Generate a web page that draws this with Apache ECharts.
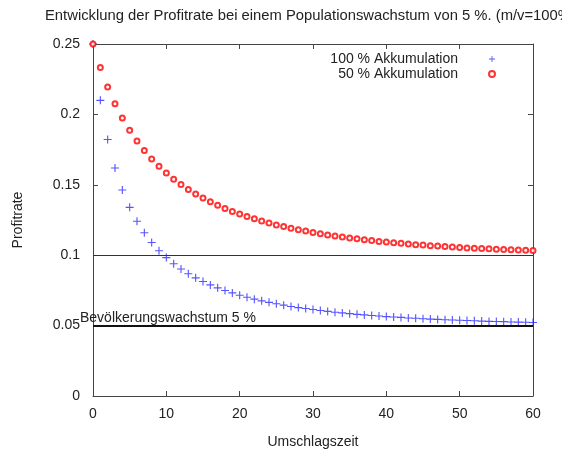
<!DOCTYPE html>
<html>
<head>
<meta charset="utf-8">
<script src="https://cdn.jsdelivr.net/npm/echarts@6/dist/echarts.min.js"></script>
<style>html,body{margin:0;padding:0;background:#fff}#c{width:562px;height:454px}</style>
</head>
<body>
<div id="c"></div>
<script>
const titleText = 'Entwicklung der Profitrate bei einem Populationswachstum von 5 %. (m/v=100%)';
const xName = 'Umschlagszeit';
const yName = 'Profitrate';
const series1Name = '100 % Akkumulation';
const series2Name = '50 % Akkumulation';
const refLabel = 'Bevölkerungswachstum 5 %';
const refLines = [0.1, 0.05];
const xTicks = [0, 10, 20, 30, 40, 50, 60];
const yTicks = [0, 0.05, 0.1, 0.15, 0.2, 0.25];

const periods = [0,1,2,3,4,5,6,7,8,9,10,11,12,13,14,15,16,17,18,19,20,21,22,23,24,25,26,27,28,29,30,31,32,33,34,35,36,37,38,39,40,41,42,43,44,45,46,47,48,49,50,51,52,53,54,55,56,57,58,59,60];
const akk100 = [0.25,0.2100,0.1822,0.1619,0.1463,0.1340,0.1241,0.1159,0.1090,0.1032,0.0983,0.0939,0.0902,0.0868,0.0839,0.0813,0.0789,0.0768,0.0749,0.0732,0.0716,0.0701,0.0688,0.0676,0.0665,0.0655,0.0645,0.0636,0.0628,0.0621,0.0614,0.0607,0.0601,0.0595,0.0590,0.0585,0.0580,0.0576,0.0572,0.0568,0.0564,0.0561,0.0558,0.0554,0.0552,0.0549,0.0546,0.0544,0.0542,0.0540,0.0538,0.0536,0.0534,0.0532,0.0530,0.0529,0.0528,0.0526,0.0525,0.0524,0.0522];
const akk50 = [0.25,0.2333,0.2194,0.2076,0.1975,0.1887,0.1811,0.1743,0.1684,0.1631,0.1583,0.1540,0.1502,0.1467,0.1435,0.1406,0.1379,0.1355,0.1332,0.1311,0.1292,0.1275,0.1258,0.1243,0.1229,0.1215,0.1203,0.1192,0.1181,0.1171,0.1161,0.1152,0.1144,0.1136,0.1129,0.1122,0.1116,0.1110,0.1104,0.1098,0.1093,0.1088,0.1084,0.1080,0.1075,0.1072,0.1068,0.1065,0.1061,0.1058,0.1055,0.1052,0.1050,0.1047,0.1045,0.1043,0.1041,0.1039,0.1037,0.1035,0.1033];

const font = 'Liberation Sans, Arial, sans-serif';
const fs = 14;
const txt = '#222';
const axisCol = '#444';
const blue = '#2a2aff';
const red = '#ff0000';
const plusPath = 'path://M4.3,0 L5.7,0 L5.7,4.3 L10,4.3 L10,5.7 L5.7,5.7 L5.7,10 L4.3,10 L4.3,5.7 L0,5.7 L0,4.3 L4.3,4.3 Z';

const chart = echarts.init(document.getElementById('c'), null, {renderer: 'canvas'});
const axisBase = {
  type: 'value',
  axisLine: {show: true, onZero: false, lineStyle: {color: axisCol, width: 1}},
  axisTick: {show: true, inside: true, length: 5, lineStyle: {color: axisCol}},
  splitLine: {show: false}
};
chart.setOption({
  animation: false,
  backgroundColor: '#fff',
  title: {
    text: titleText, left: 40, top: 3,
    textStyle: {fontFamily: font, fontSize: 14.8, fontWeight: 'normal', color: txt}
  },
  legend: {
    orient: 'vertical', right: 61, top: 47, align: 'right',
    itemWidth: 6, itemHeight: 6, itemGap: 1,
    textStyle: {fontFamily: font, fontSize: fs, color: txt, padding: [0, 26, 0, 0]},
    data: [
      {name: series1Name, icon: plusPath, itemStyle: {color: blue}},
      {name: series2Name, icon: 'emptyCircle', itemStyle: {color: red, borderColor: red, borderWidth: 1.2}}
    ]
  },
  grid: {left: 93, right: 29, top: 44, bottom: 57, containLabel: false},
  xAxis: [
    Object.assign({}, axisBase, {
      min: xTicks[0], max: xTicks[xTicks.length - 1], interval: 10, position: 'bottom',
      name: xName, nameLocation: 'middle', nameGap: 39,
      nameTextStyle: {fontFamily: font, fontSize: fs, color: txt},
      axisLabel: {fontFamily: font, fontSize: fs, color: txt, margin: 11}
    }),
    Object.assign({}, axisBase, {
      min: xTicks[0], max: xTicks[xTicks.length - 1], interval: 10, position: 'top',
      axisLabel: {show: false}
    })
  ],
  yAxis: [
    Object.assign({}, axisBase, {
      min: yTicks[0], max: yTicks[yTicks.length - 1], interval: 0.05, position: 'left',
      name: yName, nameLocation: 'middle', nameGap: 68, nameRotate: 90,
      nameTextStyle: {fontFamily: font, fontSize: fs, color: txt},
      axisLabel: {fontFamily: font, fontSize: fs, color: txt, margin: 13,
        formatter: v => String(parseFloat(v.toFixed(2)))}
    }),
    Object.assign({}, axisBase, {
      min: yTicks[0], max: yTicks[yTicks.length - 1], interval: 0.05, position: 'right',
      axisLabel: {show: false}
    })
  ],
  series: [
    {
      name: series1Name, type: 'scatter', xAxisIndex: 0, yAxisIndex: 0,
      symbol: plusPath, symbolSize: 8,
      itemStyle: {color: blue},
      data: periods.map((t, i) => [t, akk100[i]]),
      z: 3,
      markLine: {
        silent: true, symbol: ['none', 'none'], animation: false,
        data: [
          {yAxis: refLines[0], lineStyle: {color: '#333', width: 1, type: 'solid'}, label: {show: false}},
          {yAxis: refLines[1], lineStyle: {color: '#111', width: 2, type: 'solid'},
           label: {show: true, formatter: refLabel, position: 'insideStartTop', distance: [-13, 0],
             fontFamily: font, fontSize: fs, color: txt}}
        ]
      }
    },
    {
      name: series2Name, type: 'scatter', xAxisIndex: 0, yAxisIndex: 0,
      symbol: 'emptyCircle', symbolSize: 5,
      itemStyle: {color: red, borderColor: red, borderWidth: 1.2},
      data: periods.map((t, i) => [t, akk50[i]]),
      z: 4
    }
  ]
});
</script>
</body>
</html>
